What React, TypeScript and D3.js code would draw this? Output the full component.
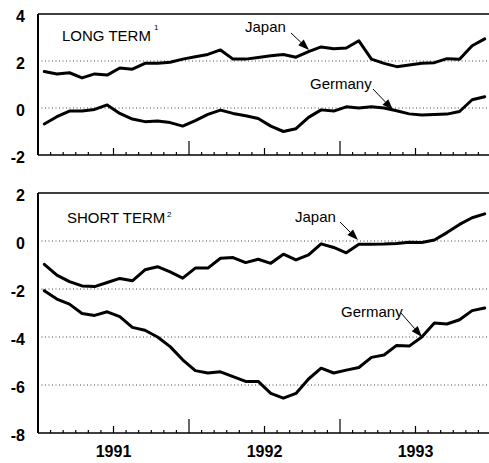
import * as d3 from "d3";

// monthly averages, Jan 1991 - Dec 1993
const japanLong = [1.55, 1.45, 1.5, 1.28, 1.45, 1.4, 1.7, 1.65, 1.9, 1.9, 1.95, 2.08, 2.18, 2.28, 2.47, 2.08, 2.08, 2.15, 2.22, 2.28, 2.16, 2.4, 2.6, 2.52, 2.55, 2.86, 2.08, 1.9, 1.76, 1.83, 1.9, 1.93, 2.1, 2.07, 2.65, 2.94];
const germanyLong = [-0.68, -0.37, -0.13, -0.13, -0.06, 0.13, -0.23, -0.47, -0.58, -0.55, -0.62, -0.77, -0.54, -0.27, -0.09, -0.23, -0.33, -0.45, -0.77, -1.0, -0.88, -0.4, -0.08, -0.13, 0.05, 0.0, 0.05, 0.0, -0.12, -0.25, -0.3, -0.28, -0.26, -0.15, 0.35, 0.48];
const japanShort = [-0.97, -1.42, -1.69, -1.87, -1.9, -1.73, -1.56, -1.66, -1.2, -1.07, -1.29, -1.55, -1.13, -1.13, -0.72, -0.69, -0.9, -0.76, -0.93, -0.55, -0.79, -0.58, -0.12, -0.27, -0.49, -0.14, -0.14, -0.13, -0.1, -0.05, -0.06, 0.04, 0.35, 0.69, 0.97, 1.13];
const germanyShort = [-2.07, -2.42, -2.63, -3.02, -3.1, -2.95, -3.15, -3.6, -3.72, -4.0, -4.4, -4.95, -5.4, -5.5, -5.45, -5.65, -5.85, -5.85, -6.35, -6.55, -6.35, -5.75, -5.3, -5.5, -5.38, -5.27, -4.85, -4.75, -4.35, -4.38, -4.0, -3.42, -3.46, -3.28, -2.9, -2.79];

const years = ["1991", "1992", "1993"];
const longTicks = [4, 2, 0, -2];
const shortTicks = [2, 0, -2, -4, -6, -8];
const longGrid = [2, 0];
const shortGrid = [0, -2, -4, -6];

const W = 489;
const H = 463;
const left = 38;
const right = 491;
const font = "Arial, 'Liberation Sans', Helvetica, sans-serif";

const x = d3.scaleLinear().domain([0, 36]).range([left, right]);
const monthTicks = d3.range(1, 36);

function Arrow({ x1, y1, x2, y2 }: { x1: number; y1: number; x2: number; y2: number }) {
  const a = Math.atan2(y2 - y1, x2 - x1);
  const len = 11, hw = 4;
  const bx = x2 - len * Math.cos(a), by = y2 - len * Math.sin(a);
  const px = -Math.sin(a) * hw, py = Math.cos(a) * hw;
  return (
    <g>
      <line x1={x1} y1={y1} x2={bx} y2={by} stroke="#000" strokeWidth={1} />
      <polygon points={`${x2},${y2} ${bx + px},${by + py} ${bx - px},${by - py}`} fill="#000" />
    </g>
  );
}

function Panel({ top, bottom, domain, ticks, grid, series }: {
  top: number; bottom: number; domain: [number, number]; ticks: number[]; grid: number[]; series: number[][];
}) {
  const y = d3.scaleLinear().domain(domain).range([bottom, top]);
  const line = d3.line<number>().x((_, i) => x(i + 0.5)).y(d => y(d));
  return (
    <g>
      {grid.map(g => (
        <line key={g} x1={left} x2={right} y1={y(g)} y2={y(g)} stroke="#444" strokeWidth={1} strokeDasharray="1,2.5" />
      ))}
      {series.map((s, i) => (
        <path key={i} d={line(s) || ""} fill="none" stroke="#000" strokeWidth={3} strokeLinejoin="round" strokeLinecap="round" />
      ))}
      <line x1={left} x2={right} y1={top} y2={top} stroke="#000" strokeWidth={1.5} />
      <line x1={left} x2={left} y1={top} y2={bottom} stroke="#000" strokeWidth={2} />
      <line x1={left} x2={right} y1={bottom} y2={bottom} stroke="#000" strokeWidth={1.5} />
      {monthTicks.map(m => {
        const h = m % 12 === 0 ? 14 : m % 6 === 0 ? 7 : 3;
        return <line key={m} x1={x(m)} x2={x(m)} y1={bottom} y2={bottom - h} stroke="#000" strokeWidth={1.2} />;
      })}
      {ticks.map(t => (
        <text key={t} x={25} y={y(t) + 4} textAnchor="end" dominantBaseline="middle"
          fontFamily={font} fontWeight="bold" fontSize={16}>{t}</text>
      ))}
    </g>
  );
}

export default function App() {
  return (
    <svg width={W} height={H} style={{ position: "absolute", left: 0, top: 0, background: "#fff" }}>
      <rect width={W} height={H} fill="#fff" />
      <Panel top={14} bottom={155} domain={[-2, 4]} ticks={longTicks} grid={longGrid} series={[japanLong, germanyLong]} />
      <Panel top={193} bottom={433} domain={[-8, 2]} ticks={shortTicks} grid={shortGrid} series={[japanShort, germanyShort]} />

      <text x={62} y={41} fontFamily={font} fontSize={15}>LONG TERM</text>
      <text x={154} y={30} fontFamily={font} fontSize={8}>1</text>
      <text x={245} y={32} fontFamily={font} fontSize={15}>Japan</text>
      <Arrow x1={291} y1={33} x2={309} y2={50} />
      <text x={310} y={89} fontFamily={font} fontSize={15}>Germany</text>
      <Arrow x1={373} y1={89} x2={393} y2={110} />

      <text x={67} y={223} fontFamily={font} fontSize={15}>SHORT TERM</text>
      <text x={167} y={217} fontFamily={font} fontSize={8}>2</text>
      <text x={295} y={222} fontFamily={font} fontSize={15}>Japan</text>
      <Arrow x1={340} y1={222} x2={358} y2={240} />
      <text x={341} y={317} fontFamily={font} fontSize={15}>Germany</text>
      <Arrow x1={401} y1={313} x2={422} y2={337} />

      {years.map((yr, i) => (
        <text key={yr} x={x(i * 12 + 6)} y={457} textAnchor="middle" fontFamily={font} fontWeight="bold" fontSize={16}>{yr}</text>
      ))}
    </svg>
  );
}
